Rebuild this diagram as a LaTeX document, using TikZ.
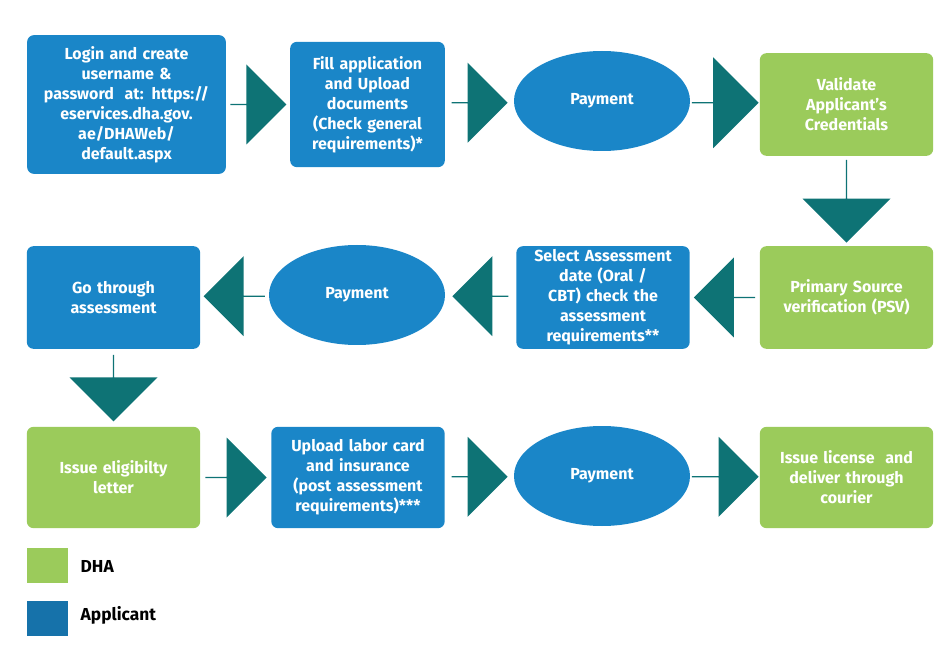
\documentclass[tikz,border=0pt]{standalone}
\usepackage{fontspec}
\setmainfont{Fira Sans}
\usetikzlibrary{shapes.geometric,shapes.arrows}
\definecolor{appblue}{HTML}{1A86C8}
\definecolor{dhagreen}{HTML}{9BCB5B}
\definecolor{teal}{HTML}{0E7375}
\tikzset{
  px/.style={x=0.75pt,y=-0.75pt},
  box/.style={rounded corners=5pt,text=white,font=\fontsize{12}{15}\selectfont\bfseries,align=center,inner sep=2pt},
  bbox/.style={box,fill=appblue},
  gbox/.style={box,fill=dhagreen},
  pay/.style={ellipse,fill=appblue,text=white,font=\fontsize{12}{15}\selectfont\bfseries,minimum width=132pt,minimum height=75pt,inner sep=0pt},
  barrow/.style={single arrow,fill=teal,inner sep=0pt,single arrow head extend=15pt,minimum width=60pt,minimum height=#1},
  barrow/.default=42pt
}
\begin{document}
\begin{tikzpicture}[px]
\useasboundingbox (0,0) rectangle (940,649);
\newcommand\boxat[5]{\node[#1,minimum width=#4*0.75pt,minimum height=#5*0.75pt,text width=#4*0.75pt-8pt] (#2) at #3 {};}
% row 1
\node[bbox,minimum width=149pt,minimum height=104pt,text width=140pt] (b1) at (126.5,104.5) {Login and create\\username \&\\password\ \ at: https://\\eservices.dha.gov.\\ae/DHAWeb/\\default.aspx};
\node[bbox,minimum width=116pt,minimum height=94pt,text width=110pt] (b2) at (367.5,104.5) {Fill application\\and Upload\\documents\\(Check general\\requirements)*};
\node[pay] (p1) at (602,101) {Payment};
\node[gbox,minimum width=130pt,minimum height=77pt,text width=124pt] (b4) at (846.5,104.5) {Validate\\Applicant's\\Credentials};
% row 2
\node[gbox,minimum width=130pt,minimum height=77pt,text width=124pt] (b5) at (846.5,297.5) {Primary Source\\verification (PSV)};
\node[bbox,minimum width=130pt,minimum height=77pt,text width=126pt] (b6) at (603,297.5) {Select Assessment\\date (Oral /\\CBT) check the\\assessment\\requirements**};
\node[pay] (p2) at (357,295) {Payment};
\node[bbox,minimum width=130pt,minimum height=77pt,text width=124pt] (b8) at (113.5,297.5) {Go through\\assessment};
% row 3
\node[gbox,minimum width=130pt,minimum height=76pt,text width=124pt] (b9) at (113.5,477.5) {Issue eligibilty\\letter};
\node[bbox,minimum width=130pt,minimum height=76pt,text width=126pt] (b10) at (358,477.5) {Upload labor card\\and insurance\\(post assessment\\requirements)***};
\node[pay] (p3) at (602,476) {Payment};
\node[gbox,minimum width=130pt,minimum height=76pt,text width=124pt] (b12) at (846.5,477.5) {Issue license\ \ and\\deliver through\\courier};
% arrows
\path (b1.east) -- (b2.west) node[midway,barrow=42pt]{};
\path (b2.east) -- (p1.west) node[midway,barrow=42pt]{};
\path (p1.east) -- (b4.west) node[midway,barrow=50pt,minimum width=68pt,single arrow head extend=17pt]{};
\path (b4.south) -- (b5.north) node[midway,barrow=62pt,minimum width=66pt,shape border rotate=270,single arrow head extend=17pt]{};
\path (b5.west) -- (b6.east) node[midway,barrow=46pt,shape border rotate=180]{};
\path (b6.west) -- (p2.east) node[midway,barrow=42pt,shape border rotate=180]{};
\path (p2.west) -- (b8.east) node[midway,barrow=46pt,shape border rotate=180]{};
\path (b8.south) -- (b9.north) node[midway,barrow=50pt,minimum width=66pt,shape border rotate=270,single arrow head extend=17pt]{};
\path (b9.east) -- (b10.west) node[midway,barrow=46pt]{};
\path (b10.east) -- (p3.west) node[midway,barrow=42pt]{};
\path (p3.east) -- (b12.west) node[midway,barrow=50pt]{};
% legend
\node[fill=dhagreen,minimum width=31pt,minimum height=26pt,inner sep=0pt] (lg) at (47.5,565.5) {};
\node[fill=appblue!85!black,minimum width=31pt,minimum height=26pt,inner sep=0pt] (lb) at (47.5,618.5) {};
\node[anchor=west,font=\fontsize{13}{15}\selectfont\bfseries] (tg) at (76,566) {DHA};
\node[anchor=west,font=\fontsize{13}{15}\selectfont\bfseries] (tb) at (76,615) {Applicant};
\end{tikzpicture}
\end{document}
